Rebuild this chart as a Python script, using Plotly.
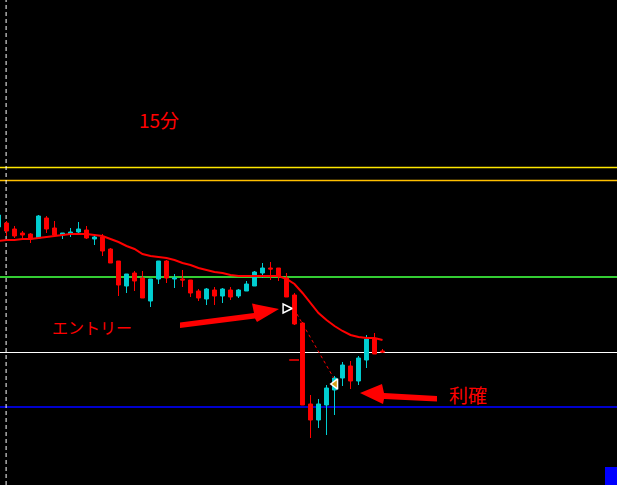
import plotly.graph_objects as go

# ---------------- data ----------------
bar_index = list(range(-1, 48))
open_ = [108.73, 108.77, 108.71, 108.67, 108.66, 108.62, 108.82, 108.72, 108.65, 108.66,
         108.68, 108.70, 108.61, 108.63, 108.51, 108.39, 108.14, 108.27, 108.22, 107.99,
         108.21, 108.39, 108.21, 108.21, 108.20, 108.09, 108.01, 108.10, 108.04, 108.10,
         108.04, 108.09, 108.14, 108.27, 108.32, 108.32, 108.22, 108.05, 107.77, 106.96,
         106.80, 106.95, 107.10, 107.22, 107.34, 107.19, 107.40, 107.61, 107.49]
high = [108.86, 108.79, 108.74, 108.69, 108.67, 108.85, 108.84, 108.79, 108.67, 108.72,
        108.78, 108.74, 108.65, 108.66, 108.52, 108.39, 108.26, 108.29, 108.29, 108.21,
        108.39, 108.40, 108.26, 108.30, 108.20, 108.11, 108.12, 108.13, 108.12, 108.13,
        108.11, 108.19, 108.29, 108.37, 108.38, 108.32, 108.27, 108.07, 107.78, 107.05,
        107.01, 107.15, 107.24, 107.38, 107.39, 107.44, 107.65, 107.67, 107.51]
low = [108.71, 108.64, 108.62, 108.62, 108.57, 108.61, 108.67, 108.64, 108.61, 108.63,
       108.67, 108.61, 108.55, 108.44, 108.37, 108.04, 108.07, 108.09, 108.02, 107.93,
       108.16, 108.17, 108.12, 108.13, 108.03, 107.99, 107.95, 107.95, 107.97, 108.00,
       108.02, 108.09, 108.14, 108.22, 108.20, 108.19, 108.03, 107.75, 106.95, 106.62,
       106.72, 106.65, 106.85, 107.14, 107.11, 107.15, 107.32, 107.46, 107.47]
close = [108.85, 108.69, 108.64, 108.65, 108.61, 108.84, 108.71, 108.65, 108.67, 108.68,
         108.71, 108.62, 108.63, 108.49, 108.37, 108.15, 108.26, 108.19, 108.02, 108.21,
         108.39, 108.22, 108.22, 108.20, 108.07, 108.02, 108.11, 108.04, 108.11, 108.03,
         108.10, 108.16, 108.28, 108.32, 108.31, 108.24, 108.03, 107.76, 106.95, 106.80,
         106.96, 107.12, 107.22, 107.35, 107.19, 107.42, 107.61, 107.46, 107.48]
moving_avg = [108.59, 108.60, 108.60, 108.61, 108.61, 108.62, 108.63, 108.64, 108.65, 108.66,
              108.66, 108.66, 108.65, 108.64, 108.61, 108.58, 108.54, 108.51, 108.46, 108.44,
              108.43, 108.42, 108.40, 108.37, 108.35, 108.32, 108.30, 108.28, 108.27, 108.25,
              108.24, 108.24, 108.24, 108.24, 108.24, 108.24, 108.21, 108.16, 108.07, 107.97,
              107.87, 107.80, 107.74, 107.69, 107.65, 107.63, 107.62, 107.62, 107.60]

level_prices = [109.325, 109.195, 108.23, 107.475, 106.93]
level_colors = ["#FFE600", "#FFC000", "#33CC33", "#FFFFFF", "#0000CC"]
level_widths = [1.5, 1.5, 2, 1, 2]

separator_bar = -0.05

entry_bar, entry_price = 35.7, 107.915
exit_bar, exit_price = 41.1, 107.16
trade_line_x = [36.3, 40.9]
trade_line_y = [107.86, 107.22]
stop_mark_bar, stop_mark_price = 35.95, 107.40

UP = "#00CED1"
DOWN = "#FF0000"
W, H = 617, 485

fig = go.Figure()

fig.add_trace(go.Candlestick(
    x=bar_index, open=open_, high=high, low=low, close=close,
    increasing=dict(line=dict(color=UP, width=1), fillcolor=UP),
    decreasing=dict(line=dict(color=DOWN, width=1), fillcolor=DOWN),
    showlegend=False, hoverinfo="skip",
))

fig.add_trace(go.Scatter(
    x=bar_index, y=moving_avg, mode="lines",
    line=dict(color="#FF0000", width=2), showlegend=False, hoverinfo="skip",
))

fig.add_trace(go.Scatter(
    x=trade_line_x, y=trade_line_y, mode="lines",
    line=dict(color="#FF0000", width=1, dash="dot"), showlegend=False, hoverinfo="skip",
))

fig.add_trace(go.Scatter(
    x=[stop_mark_bar], y=[stop_mark_price], mode="markers",
    marker=dict(symbol="line-ew", size=7, line=dict(color="#FF0000", width=1.5)),
    showlegend=False, hoverinfo="skip",
))

fig.add_trace(go.Scatter(
    x=[entry_bar], y=[entry_price], mode="markers",
    marker=dict(symbol="arrow-right", size=9, color="#000000", line=dict(color="#FFFFFF", width=1.5)),
    showlegend=False, hoverinfo="skip",
))
fig.add_trace(go.Scatter(
    x=[exit_bar], y=[exit_price], mode="markers",
    marker=dict(symbol="triangle-left", size=9, color="#D4A017", line=dict(color="#FFFFFF", width=1.5)),
    showlegend=False, hoverinfo="skip",
))

shapes = []
for p, c, w in zip(level_prices, level_colors, level_widths):
    shapes.append(dict(type="line", xref="paper", x0=0, x1=1, yref="y", y0=p, y1=p,
                       line=dict(color=c, width=w), layer="below"))
shapes.append(dict(type="line", xref="x", x0=separator_bar, x1=separator_bar, yref="paper", y0=0, y1=1,
                   line=dict(color="#FFFFFF", width=1, dash="4px,3px"), layer="below"))


def px_path(points):
    parts = []
    for k, (px, py) in enumerate(points):
        parts.append(("M" if k == 0 else "L") + f"{px / W:.5f},{1 - py / H:.5f}")
    return " ".join(parts) + " Z"


entry_arrow = [(180, 322.5), (254, 313), (252, 303.5), (279, 309), (257, 322), (255, 318.5), (180, 328)]
exit_arrow = [(360, 393), (382, 384), (384, 393), (437, 396), (437, 401.5), (384, 399), (383, 404)]
for pts in (entry_arrow, exit_arrow):
    shapes.append(dict(type="path", xref="paper", yref="paper", path=px_path(pts),
                       fillcolor="#FF0000", line=dict(color="#FF0000", width=0)))

shapes.append(dict(type="rect", xref="paper", yref="paper", x0=605 / W, x1=1, y0=0, y1=18 / H,
                   fillcolor="#0000FF", line=dict(width=0)))

labels = [("15分", 159, 119, 19), ("エントリー", 92, 327, 16), ("利確", 468, 394, 19)]
annotations = []
for txt, px, py, fs in labels:
    annotations.append(dict(text=txt, xref="paper", yref="paper", x=px / W, y=1 - py / H,
                            xanchor="center", yanchor="middle", showarrow=False,
                            font=dict(family="Noto Sans CJK JP", size=fs, color="#FF0000")))

fig.update_layout(
    width=W, height=H, margin=dict(l=0, r=0, t=0, b=0),
    paper_bgcolor="#000000", plot_bgcolor="#000000",
    xaxis=dict(range=[-0.8125, 76.3125], visible=False, rangeslider=dict(visible=False),
               showgrid=False, zeroline=False),
    yaxis=dict(range=[106.15, 111.00], visible=False, showgrid=False, zeroline=False),
    shapes=shapes, annotations=annotations, showlegend=False, hovermode=False,
)

fig.write_html("out.html", config={"displayModeBar": False},
               post_script="document.body.style.margin='0';document.body.style.background='#000';")
